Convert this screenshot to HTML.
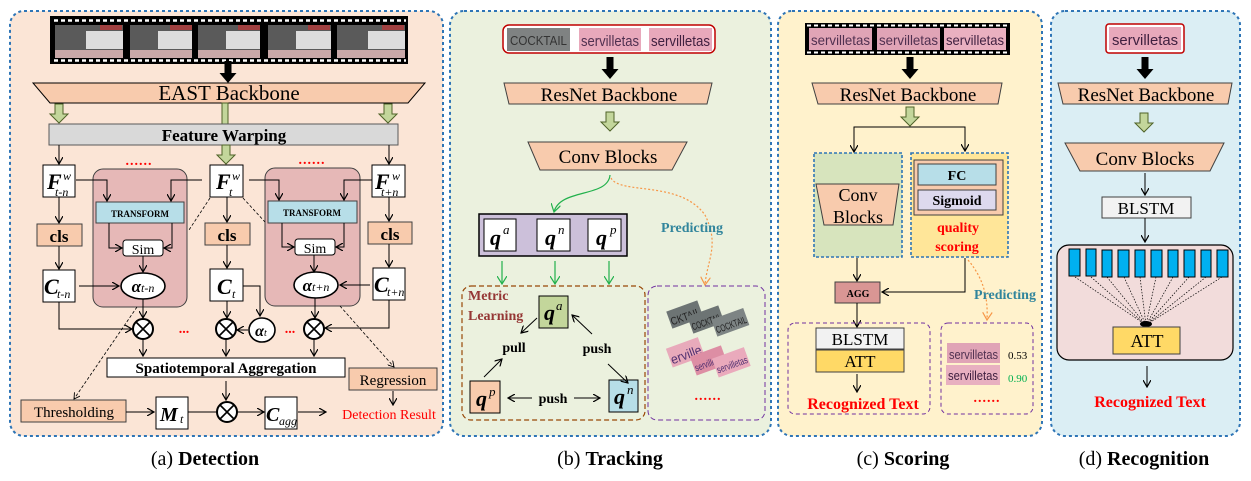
<!DOCTYPE html>
<html><head><meta charset="utf-8"><style>
html,body{margin:0;padding:0;background:#fff;}
svg{display:block;font-family:"Liberation Serif",serif;}
.b{font-weight:bold}
</style></head><body>
<svg width="1251" height="481" viewBox="0 0 1251 481" xmlns="http://www.w3.org/2000/svg">
<defs>
<marker id="ar" markerWidth="8" markerHeight="8" refX="7" refY="4" orient="auto" markerUnits="userSpaceOnUse"><path d="M0,0 L7,4 L0,8" fill="none" stroke="#000" stroke-width="1.2"/></marker>
<marker id="ag" markerWidth="10" markerHeight="10" refX="8" refY="5" orient="auto" markerUnits="userSpaceOnUse"><path d="M0,0 L8,5 L0,10" fill="none" stroke="#22b14c" stroke-width="1.2"/></marker>
<marker id="ao" markerWidth="10" markerHeight="10" refX="8" refY="5" orient="auto" markerUnits="userSpaceOnUse"><path d="M0,0 L8,5 L0,10" fill="none" stroke="#f79646" stroke-width="1.2"/></marker>
<marker id="ad" markerWidth="7" markerHeight="7" refX="6" refY="3.5" orient="auto" markerUnits="userSpaceOnUse"><path d="M0,0 L6,3.5 L0,7" fill="none" stroke="#000" stroke-width="0.9"/></marker>
<g id="ga"><path d="M-4,0 h8 v10 h5 l-9,9 l-9,-9 h5 z" fill="#c3d69b" stroke="#4f6228" stroke-width="1"/></g>
<g id="ba"><path d="M-3.5,0 h7 v12 h5 l-8.5,10 l-8.5,-10 h5 z" fill="#000"/></g>
<g id="ot"><circle r="10" fill="#fff" stroke="#000" stroke-width="2"/><path d="M-7,-7 L7,7 M7,-7 L-7,7" stroke="#000" stroke-width="1.6"/></g>
</defs>

<rect x="10" y="11" width="433" height="425" rx="14" fill="#fbe5d6" stroke="#2e75b6" stroke-width="2" stroke-dasharray="3,3"/>
<rect x="450" y="11" width="321" height="425" rx="14" fill="#ebf1de" stroke="#2e75b6" stroke-width="2" stroke-dasharray="3,3"/>
<rect x="778" y="11" width="264" height="425" rx="14" fill="#fff2cc" stroke="#2e75b6" stroke-width="2" stroke-dasharray="3,3"/>
<rect x="1051" y="11" width="189" height="425" rx="14" fill="#dbeef4" stroke="#2e75b6" stroke-width="2" stroke-dasharray="3,3"/>

<!-- (a) -->
<rect x="50" y="16" width="358" height="48" fill="#000"/>
<line x1="54" y1="20.5" x2="406" y2="20.5" stroke="#fff" stroke-width="2.5" stroke-dasharray="4,3"/>
<line x1="54" y1="60.5" x2="406" y2="60.5" stroke="#fff" stroke-width="2.5" stroke-dasharray="4,3"/>
<g>
<rect x="55" y="25" width="68" height="33" fill="#5a5a5a"/><rect x="86" y="31" width="37" height="18" fill="#ddd"/><rect x="55" y="50" width="68" height="8" fill="#c9a8a8"/><rect x="100" y="25" width="22" height="5" fill="#a04040"/>
<rect x="130" y="25" width="62" height="33" fill="#5a5a5a"/><rect x="158" y="31" width="34" height="18" fill="#ddd"/><rect x="130" y="50" width="62" height="8" fill="#c9a8a8"/><rect x="170" y="25" width="22" height="5" fill="#a04040"/>
<rect x="198" y="25" width="62" height="33" fill="#5a5a5a"/><rect x="226" y="31" width="34" height="18" fill="#ddd"/><rect x="198" y="50" width="62" height="8" fill="#c9a8a8"/><rect x="238" y="25" width="22" height="5" fill="#a04040"/>
<rect x="268" y="25" width="63" height="33" fill="#5a5a5a"/><rect x="296" y="31" width="35" height="18" fill="#ddd"/><rect x="268" y="50" width="63" height="8" fill="#c9a8a8"/><rect x="308" y="25" width="22" height="5" fill="#a04040"/>
<rect x="337" y="25" width="68" height="33" fill="#5a5a5a"/><rect x="368" y="31" width="37" height="18" fill="#ddd"/><rect x="337" y="50" width="68" height="8" fill="#c9a8a8"/><rect x="382" y="25" width="22" height="5" fill="#a04040"/>
</g>
<use href="#ba" x="228" y="61"/>
<polygon points="33,83 425,83 408,103 50,103" fill="#f8cbad" stroke="#000" stroke-width="1"/>
<text x="229" y="100" font-size="21" text-anchor="middle">EAST Backbone</text>
<use href="#ga" x="59" y="104"/><use href="#ga" x="388" y="104"/>
<rect x="222" y="103" width="6" height="21" fill="#c3d69b" stroke="#4f6228" stroke-width="1"/>
<rect x="49" y="124" width="349" height="21" fill="#d9d9d9" stroke="#595959" stroke-width="1"/>
<text x="224" y="141" font-size="17" text-anchor="middle" class="b">Feature Warping</text>
<line x1="59" y1="145" x2="59" y2="164" stroke="#000" marker-end="url(#ar)"/>
<line x1="389" y1="145" x2="389" y2="164" stroke="#000" marker-end="url(#ar)"/>
<use href="#ga" x="226" y="145"/>
<rect x="93" y="169" width="94" height="138" rx="10" fill="#e6b8b7" stroke="#404040" stroke-width="1"/>
<rect x="265" y="168" width="95" height="138" rx="10" fill="#e6b8b7" stroke="#404040" stroke-width="1"/>
<text x="139" y="165" font-size="14" fill="#f00" text-anchor="middle" class="b" letter-spacing="1">......</text>
<text x="312" y="164" font-size="14" fill="#f00" text-anchor="middle" class="b" letter-spacing="1">......</text>
<rect x="43" y="165" width="32" height="32" fill="#fff" stroke="#000"/>
<text x="47" y="189" font-size="22" font-style="italic" class="b">F</text><text x="63" y="180" font-size="12" font-style="italic">w</text><text x="55" y="196" font-size="12" font-style="italic">t-n</text>
<rect x="210" y="165" width="33" height="32" fill="#fff" stroke="#000"/>
<text x="216" y="189" font-size="22" font-style="italic" class="b">F</text><text x="232" y="180" font-size="12" font-style="italic">w</text><text x="229" y="196" font-size="12" font-style="italic">t</text>
<rect x="372" y="165" width="33" height="32" fill="#fff" stroke="#000"/>
<text x="375" y="189" font-size="22" font-style="italic" class="b">F</text><text x="392" y="180" font-size="12" font-style="italic">w</text><text x="381" y="196" font-size="12" font-style="italic">t+n</text>
<rect x="96" y="202" width="88" height="21" fill="#b7dee8" stroke="#404040"/>
<text x="140" y="217" font-size="9" text-anchor="middle" class="b">TRANSFORM</text>
<rect x="268" y="201" width="89" height="22" fill="#b7dee8" stroke="#404040"/>
<text x="312" y="216" font-size="9" text-anchor="middle" class="b">TRANSFORM</text>
<polyline points="76,180 107,180 107,201" fill="none" stroke="#000" marker-end="url(#ar)"/>
<polyline points="202,180 171,180 171,201" fill="none" stroke="#000" marker-end="url(#ar)"/>
<polyline points="249,180 279,180 279,200" fill="none" stroke="#000" marker-end="url(#ar)"/>
<polyline points="372,180 344,180 344,200" fill="none" stroke="#000" marker-end="url(#ar)"/>
<rect x="123" y="240" width="40" height="16" rx="3" fill="#fff" stroke="#000"/>
<text x="143" y="254" font-size="14" text-anchor="middle">Sim</text>
<rect x="295" y="239" width="40" height="16" rx="3" fill="#fff" stroke="#000"/>
<text x="315" y="253" font-size="14" text-anchor="middle">Sim</text>
<polyline points="109,223 109,248 122,248" fill="none" stroke="#000" marker-end="url(#ar)"/>
<polyline points="172,223 172,248 164,248" fill="none" stroke="#000" marker-end="url(#ar)"/>
<polyline points="282,223 282,247 294,247" fill="none" stroke="#000" marker-end="url(#ar)"/>
<polyline points="344,223 344,247 336,247" fill="none" stroke="#000" marker-end="url(#ar)"/>
<line x1="143" y1="256" x2="143" y2="272" stroke="#000" marker-end="url(#ar)"/>
<line x1="314" y1="255" x2="314" y2="272" stroke="#000" marker-end="url(#ar)"/>
<ellipse cx="143" cy="286" rx="22" ry="13" fill="#fff" stroke="#000" stroke-width="1.6"/>
<text x="143" y="292" font-size="17" text-anchor="middle" font-style="italic" class="b">α<tspan font-size="12" font-weight="normal">t-n</tspan></text>
<ellipse cx="316" cy="285" rx="22" ry="13" fill="#fff" stroke="#000" stroke-width="1.6"/>
<text x="316" y="291" font-size="17" text-anchor="middle" font-style="italic" class="b">α<tspan font-size="12" font-weight="normal">t+n</tspan></text>
<line x1="59" y1="197" x2="59" y2="223" stroke="#000" marker-end="url(#ar)"/>
<line x1="227" y1="197" x2="227" y2="222" stroke="#000" marker-end="url(#ar)"/>
<line x1="389" y1="197" x2="389" y2="221" stroke="#000" marker-end="url(#ar)"/>
<rect x="37" y="224" width="45" height="22" fill="#f8cbad" stroke="#404040"/><text x="59" y="242" font-size="17" text-anchor="middle" class="b">cls</text>
<rect x="205" y="223" width="45" height="22" fill="#f8cbad" stroke="#404040"/><text x="227" y="241" font-size="17" text-anchor="middle" class="b">cls</text>
<rect x="368" y="222" width="44" height="22" fill="#f8cbad" stroke="#404040"/><text x="390" y="240" font-size="17" text-anchor="middle" class="b">cls</text>
<line x1="59" y1="246" x2="59" y2="269" stroke="#000" marker-end="url(#ar)"/>
<line x1="227" y1="245" x2="227" y2="268" stroke="#000" marker-end="url(#ar)"/>
<line x1="389" y1="244" x2="389" y2="267" stroke="#000" marker-end="url(#ar)"/>
<rect x="43" y="270" width="32" height="32" fill="#fff" stroke="#000"/>
<text x="44" y="294" font-size="22" font-style="italic" class="b">C</text><text x="57" y="298" font-size="12" font-style="italic">t-n</text>
<rect x="210" y="269" width="33" height="32" fill="#fff" stroke="#000"/>
<text x="217" y="294" font-size="22" font-style="italic" class="b">C</text><text x="232" y="298" font-size="12" font-style="italic">t</text>
<rect x="373" y="268" width="32" height="32" fill="#fff" stroke="#000"/>
<text x="374" y="292" font-size="22" font-style="italic" class="b">C</text><text x="387" y="296" font-size="12" font-style="italic">t+n</text>
<line x1="79" y1="286" x2="119" y2="286" stroke="#000" marker-end="url(#ar)"/>
<line x1="370" y1="285" x2="340" y2="285" stroke="#000" marker-end="url(#ar)"/>
<line x1="143" y1="299" x2="143" y2="318" stroke="#000" marker-end="url(#ar)"/>
<line x1="315" y1="298" x2="315" y2="318" stroke="#000" marker-end="url(#ar)"/>
<line x1="227" y1="301" x2="227" y2="318" stroke="#000" marker-end="url(#ar)"/>
<polyline points="59,302 59,329 132,329" fill="none" stroke="#000" marker-end="url(#ar)"/>
<polyline points="389,300 389,328 325,328" fill="none" stroke="#000" marker-end="url(#ar)"/>
<polyline points="243,286 260,286 260,316" fill="none" stroke="#000" marker-end="url(#ar)"/>
<use href="#ot" x="143" y="329"/><use href="#ot" x="226" y="329"/><use href="#ot" x="314" y="329"/>
<ellipse cx="262" cy="330" rx="13" ry="12" fill="#fff" stroke="#000" stroke-width="1.6"/>
<text x="261" y="336" font-size="16" text-anchor="middle" font-style="italic" class="b">α<tspan font-size="10" font-weight="normal">t</tspan></text>
<line x1="248" y1="330" x2="237" y2="330" stroke="#000" marker-end="url(#ar)"/>
<text x="184" y="333" font-size="14" fill="#f00" text-anchor="middle" class="b">...</text>
<text x="290" y="333" font-size="14" fill="#f00" text-anchor="middle" class="b">...</text>
<line x1="143" y1="339" x2="143" y2="356" stroke="#000" marker-end="url(#ar)"/>
<line x1="226" y1="339" x2="226" y2="356" stroke="#000" marker-end="url(#ar)"/>
<line x1="314" y1="339" x2="314" y2="356" stroke="#000" marker-end="url(#ar)"/>
<rect x="107" y="358" width="238" height="19" fill="#fff" stroke="#000"/>
<text x="226" y="373" font-size="15" text-anchor="middle" class="b">Spatiotemporal Aggregation</text>
<line x1="210" y1="198" x2="189" y2="230" stroke="#000" stroke-width="0.8" stroke-dasharray="3,2"/>
<line x1="243" y1="198" x2="265" y2="222" stroke="#000" stroke-width="0.8" stroke-dasharray="3,2"/>
<line x1="137" y1="307" x2="74" y2="399" stroke="#000" stroke-width="0.8" stroke-dasharray="3,2" marker-end="url(#ad)"/>
<line x1="340" y1="306" x2="394" y2="367" stroke="#000" stroke-width="0.8" stroke-dasharray="3,2" marker-end="url(#ad)"/>
<rect x="349" y="368" width="88" height="22" fill="#f8cbad" stroke="#404040"/>
<text x="393" y="385" font-size="15" text-anchor="middle">Regression</text>
<line x1="393" y1="391" x2="393" y2="405" stroke="#000" marker-end="url(#ar)"/>
<rect x="21" y="400" width="105" height="22" fill="#f8cbad" stroke="#404040"/>
<text x="74" y="417" font-size="15" text-anchor="middle">Thresholding</text>
<line x1="126" y1="412" x2="154" y2="412" stroke="#000" marker-end="url(#ar)"/>
<rect x="156" y="397" width="32" height="32" fill="#fff" stroke="#000"/>
<text x="160" y="421" font-size="20" font-style="italic" class="b">M</text><text x="180" y="423" font-size="12" font-style="italic">t</text>
<line x1="188" y1="412" x2="226" y2="412" stroke="#000" marker-end="url(#ar)"/>
<line x1="226" y1="381" x2="226" y2="400" stroke="#000" marker-end="url(#ar)"/>
<use href="#ot" x="227" y="412"/>
<line x1="237" y1="412" x2="264" y2="412" stroke="#000" marker-end="url(#ar)"/>
<rect x="265" y="397" width="32" height="32" fill="#fff" stroke="#000"/>
<text x="266" y="421" font-size="20" font-style="italic" class="b">C</text><text x="279" y="425" font-size="12" font-style="italic">agg</text>
<line x1="298" y1="412" x2="326" y2="412" stroke="#000" marker-end="url(#ar)"/>
<text x="389" y="419" font-size="14" fill="#f00" text-anchor="middle">Detection Result</text>
<text x="205" y="465" font-size="20" text-anchor="middle">(a) <tspan class="b">Detection</tspan></text>

<!-- (b) -->
<rect x="503" y="25" width="212" height="28" rx="6" fill="#fff" stroke="#c00000" stroke-width="1.5"/>
<g font-family="Liberation Sans,sans-serif">
<rect x="507" y="28" width="63" height="23" fill="#7f8282"/><text x="510" y="45" font-size="13" fill="#333" textLength="57" lengthAdjust="spacingAndGlyphs">COCKTAIL</text>
<rect x="579" y="28" width="62" height="23" fill="#e8a8bb"/><text x="581" y="46" font-size="15" fill="#503050" textLength="58" lengthAdjust="spacingAndGlyphs">servilletas</text>
<rect x="649" y="28" width="63" height="23" fill="#e8a8bb"/><text x="651" y="46" font-size="15" fill="#402040" textLength="59" lengthAdjust="spacingAndGlyphs">servilletas</text>
</g>
<use href="#ba" x="610" y="57"/>
<polygon points="504,83 712,83 707,104 509,104" fill="#f8cbad" stroke="#404040"/>
<text x="609" y="101" font-size="19" text-anchor="middle">ResNet Backbone</text>
<use href="#ga" x="610" y="112"/>
<polygon points="528,142 687,142 672,170 540,170" fill="#f8cbad" stroke="#404040"/>
<text x="608" y="163" font-size="19" text-anchor="middle">Conv Blocks</text>
<path d="M610,175 C608,198 560,188 554,212" fill="none" stroke="#22b14c" stroke-width="1.2" marker-end="url(#ag)"/>
<path d="M611,178 C620,195 680,180 705,215 C720,245 707,260 705,285" fill="none" stroke="#f79646" stroke-width="1.2" stroke-dasharray="2,2" marker-end="url(#ao)"/>
<text x="692" y="232" font-size="14" text-anchor="middle" class="b" fill="#31859c">Predicting</text>
<rect x="479" y="214" width="148" height="42" fill="#ccc0da" stroke="#000" stroke-width="1.5"/>
<rect x="484" y="219" width="32" height="32" fill="#fff" stroke="#000"/>
<rect x="537" y="219" width="33" height="32" fill="#fff" stroke="#000"/>
<rect x="588" y="219" width="33" height="32" fill="#fff" stroke="#000"/>
<text x="490" y="245" font-size="22" font-style="italic" class="b">q</text><text x="503" y="234" font-size="13" font-style="italic">a</text>
<text x="545" y="245" font-size="22" font-style="italic" class="b">q</text><text x="558" y="234" font-size="13" font-style="italic">n</text>
<text x="596" y="245" font-size="22" font-style="italic" class="b">q</text><text x="610" y="234" font-size="13" font-style="italic">p</text>
<line x1="502" y1="261" x2="502" y2="284" stroke="#22b14c" stroke-width="1.2" marker-end="url(#ag)"/>
<line x1="555" y1="261" x2="555" y2="284" stroke="#22b14c" stroke-width="1.2" marker-end="url(#ag)"/>
<line x1="609" y1="261" x2="609" y2="284" stroke="#22b14c" stroke-width="1.2" marker-end="url(#ag)"/>
<rect x="462" y="286" width="183" height="134" rx="9" fill="none" stroke="#984807" stroke-width="1.2" stroke-dasharray="5,3"/>
<rect x="648" y="286" width="117" height="134" rx="9" fill="none" stroke="#7030a0" stroke-width="1" stroke-dasharray="5,3"/>
<text x="468" y="300" font-size="14" class="b" fill="#953735">Metric</text>
<text x="468" y="320" font-size="14" class="b" fill="#953735">Learning</text>
<rect x="539" y="296" width="29" height="32" fill="#c3d69b" stroke="#000"/>
<text x="544" y="320" font-size="22" font-style="italic" class="b">q</text><text x="556" y="310" font-size="13" font-style="italic">a</text>
<rect x="470" y="381" width="30" height="32" fill="#f8cbad" stroke="#000"/>
<text x="476" y="406" font-size="22" font-style="italic" class="b">q</text><text x="489" y="396" font-size="13" font-style="italic">p</text>
<rect x="609" y="380" width="29" height="32" fill="#b7dee8" stroke="#000"/>
<text x="614" y="404" font-size="22" font-style="italic" class="b">q</text><text x="627" y="394" font-size="13" font-style="italic">n</text>
<line x1="537" y1="318" x2="521" y2="333" stroke="#000" marker-end="url(#ar)"/>
<line x1="484" y1="377" x2="502" y2="359" stroke="#000" marker-end="url(#ar)"/>
<line x1="592" y1="334" x2="572" y2="315" stroke="#000" marker-end="url(#ar)"/>
<line x1="608" y1="364" x2="628" y2="383" stroke="#000" marker-end="url(#ar)"/>
<line x1="532" y1="398" x2="508" y2="398" stroke="#000" marker-end="url(#ar)"/>
<line x1="574" y1="398" x2="600" y2="398" stroke="#000" marker-end="url(#ar)"/>
<text x="514" y="352" font-size="14" class="b" text-anchor="middle">pull</text>
<text x="597" y="353" font-size="14" class="b" text-anchor="middle">push</text>
<text x="553" y="403" font-size="14" class="b" text-anchor="middle">push</text>
<g font-family="Liberation Sans,sans-serif">
<g transform="translate(670,322) rotate(-20)"><rect x="0" y="-11" width="33" height="18" fill="#6d7474"/><text x="1" y="4" font-size="11" fill="#222" textLength="31" lengthAdjust="spacingAndGlyphs">CKTAIL</text></g>
<g transform="translate(691,327) rotate(-20)"><rect x="0" y="-11" width="33" height="18" fill="#6d7474"/><text x="1" y="4" font-size="10" fill="#222" textLength="31" lengthAdjust="spacingAndGlyphs">COCKTAIL</text></g>
<g transform="translate(715,330) rotate(-20)"><rect x="0" y="-11" width="34" height="18" fill="#7d8484"/><text x="1" y="4" font-size="10" fill="#222" textLength="32" lengthAdjust="spacingAndGlyphs">COCKTAIL</text></g>
<g transform="translate(670,360) rotate(-20)"><rect x="0" y="-12" width="34" height="20" fill="#e8aabb"/><text x="1" y="5" font-size="13" fill="#503070" textLength="32" lengthAdjust="spacingAndGlyphs">erville</text></g>
<g transform="translate(694,368) rotate(-20)"><rect x="0" y="-12" width="33" height="20" fill="#dd8ea4"/><text x="1" y="4" font-size="10" fill="#503070" textLength="31" lengthAdjust="spacingAndGlyphs">servilletas</text></g>
<g transform="translate(716,370) rotate(-20)"><rect x="0" y="-12" width="34" height="20" fill="#eaaabc"/><text x="1" y="4" font-size="10" fill="#503070" textLength="32" lengthAdjust="spacingAndGlyphs">servilletas</text></g>
</g>
<text x="708" y="400" font-size="14" fill="#f00" text-anchor="middle" class="b" letter-spacing="1">......</text>
<text x="610" y="465" font-size="20" text-anchor="middle">(b) <tspan class="b">Tracking</tspan></text>

<!-- (c) -->
<rect x="805" y="23" width="205" height="32" fill="#000"/>
<line x1="807" y1="25.5" x2="1008" y2="25.5" stroke="#fff" stroke-width="2" stroke-dasharray="4,3"/>
<line x1="807" y1="52.5" x2="1008" y2="52.5" stroke="#fff" stroke-width="2" stroke-dasharray="4,3"/>
<g font-family="Liberation Sans,sans-serif">
<rect x="809" y="28" width="63" height="22" fill="#e0a4b6"/><text x="811" y="45" font-size="14" fill="#503050" textLength="59" lengthAdjust="spacingAndGlyphs">servilletas</text>
<rect x="877" y="28" width="63" height="22" fill="#e0a4b6"/><text x="879" y="45" font-size="14" fill="#503050" textLength="59" lengthAdjust="spacingAndGlyphs">servilletas</text>
<rect x="944" y="28" width="62" height="22" fill="#eab0c0"/><text x="946" y="45" font-size="14" fill="#402040" textLength="58" lengthAdjust="spacingAndGlyphs">servilletas</text>
</g>
<use href="#ba" x="910" y="57"/>
<polygon points="812,83 1002,83 998,104 818,104" fill="#f8cbad" stroke="#404040"/>
<text x="908" y="101" font-size="19" text-anchor="middle">ResNet Backbone</text>
<use href="#ga" x="910" y="107"/>
<polyline points="854,152 854,127 965,127 965,151" fill="none" stroke="#000"/>
<line x1="854" y1="140" x2="854" y2="152" stroke="#000" marker-end="url(#ar)"/>
<line x1="965" y1="140" x2="965" y2="151" stroke="#000" marker-end="url(#ar)"/>
<rect x="814" y="153" width="88" height="104" fill="#d7e4bd" stroke="#2e75b6" stroke-width="1.6" stroke-dasharray="3,2"/>
<polygon points="816,184 899,184 893,225 824,225" fill="#f8cbad" stroke="#404040"/>
<text x="858" y="201" font-size="18" text-anchor="middle">Conv</text>
<text x="858" y="223" font-size="18" text-anchor="middle">Blocks</text>
<rect x="911" y="153" width="97" height="104" fill="#ffe699" stroke="#2e75b6" stroke-width="1.6" stroke-dasharray="3,2"/>
<rect x="914" y="160" width="89" height="55" fill="#f8cbad" stroke="#404040"/>
<rect x="918" y="164" width="78" height="21" fill="#b7dee8" stroke="#404040"/>
<text x="957" y="180" font-size="14" text-anchor="middle" class="b">FC</text>
<rect x="918" y="190" width="78" height="20" fill="#ddd9ee" stroke="#404040"/>
<text x="957" y="205" font-size="14" text-anchor="middle" class="b">Sigmoid</text>
<text x="958" y="232" font-size="14" text-anchor="middle" class="b" fill="#f00">quality</text>
<text x="957" y="251" font-size="14" text-anchor="middle" class="b" fill="#f00">scoring</text>
<line x1="857" y1="258" x2="857" y2="281" stroke="#000" marker-end="url(#ar)"/>
<polyline points="965,258 965,292 882,292" fill="none" stroke="#000" marker-end="url(#ar)"/>
<rect x="835" y="282" width="45" height="21" fill="#d99694" stroke="#404040"/>
<text x="858" y="297" font-size="10" text-anchor="middle" class="b">AGG</text>
<path d="M968,260 C985,280 988,300 987,320" fill="none" stroke="#f79646" stroke-width="1.2" stroke-dasharray="2,2" marker-end="url(#ao)"/>
<text x="1005" y="299" font-size="14" text-anchor="middle" class="b" fill="#31859c">Predicting</text>
<line x1="857" y1="303" x2="857" y2="327" stroke="#000" marker-end="url(#ar)"/>
<rect x="788" y="323" width="142" height="91" rx="7" fill="none" stroke="#7030a0" stroke-width="1" stroke-dasharray="4,3"/>
<rect x="816" y="328" width="88" height="21" fill="#f2f2f2" stroke="#404040"/>
<text x="860" y="345" font-size="17" text-anchor="middle">BLSTM</text>
<rect x="816" y="350" width="88" height="22" fill="#ffd966" stroke="#404040"/>
<text x="860" y="367" font-size="17" text-anchor="middle">ATT</text>
<line x1="857" y1="374" x2="857" y2="392" stroke="#000" marker-end="url(#ar)"/>
<text x="863" y="409" font-size="16" text-anchor="middle" class="b" fill="#f00">Recognized Text</text>
<rect x="941" y="323" width="92" height="91" rx="7" fill="none" stroke="#7030a0" stroke-width="1" stroke-dasharray="4,3"/>
<g font-family="Liberation Sans,sans-serif">
<rect x="947" y="343" width="53" height="20" fill="#e0a4b6"/><text x="949" y="359" font-size="13" fill="#503050" textLength="49" lengthAdjust="spacingAndGlyphs">servilletas</text>
<rect x="946" y="365" width="54" height="20" fill="#e8b0c0"/><text x="948" y="380" font-size="13" fill="#402040" textLength="50" lengthAdjust="spacingAndGlyphs">servilletas</text>
</g>
<text x="1008" y="359" font-size="11">0.53</text>
<text x="1008" y="382" font-size="11" fill="#00b050">0.90</text>
<text x="987" y="402" font-size="14" fill="#f00" text-anchor="middle" class="b" letter-spacing="1">......</text>
<text x="903" y="465" font-size="20" text-anchor="middle">(c) <tspan class="b">Scoring</tspan></text>

<!-- (d) -->
<rect x="1106" y="24" width="78" height="29" rx="3" fill="#fff" stroke="#c00000" stroke-width="1.5"/>
<rect x="1109" y="27" width="72" height="23" fill="#e8a8bb"/>
<text x="1112" y="45" font-size="15" fill="#402040" font-family="Liberation Sans,sans-serif" textLength="66" lengthAdjust="spacingAndGlyphs">servilletas</text>
<use href="#ba" x="1145" y="57"/>
<polygon points="1058,83 1232,83 1228,104 1063,104" fill="#f8cbad" stroke="#404040"/>
<text x="1146" y="101" font-size="19" text-anchor="middle">ResNet Backbone</text>
<use href="#ga" x="1144" y="113"/>
<polygon points="1065,143 1224,143 1210,171 1080,171" fill="#f8cbad" stroke="#404040"/>
<text x="1145" y="165" font-size="19" text-anchor="middle">Conv Blocks</text>
<line x1="1145" y1="173" x2="1145" y2="195" stroke="#000" marker-end="url(#ar)"/>
<rect x="1102" y="197" width="89" height="21" fill="#f2f2f2" stroke="#404040"/>
<text x="1146" y="214" font-size="17" text-anchor="middle">BLSTM</text>
<line x1="1145" y1="218" x2="1145" y2="242" stroke="#000" marker-end="url(#ar)"/>
<rect x="1057" y="245" width="176" height="115" rx="12" fill="#f2dcdb" stroke="#000" stroke-width="1.2"/>
<g fill="#00b0f0" stroke="#000" stroke-width="1">
<rect x="1069" y="249" width="11" height="27"/><rect x="1086" y="249" width="10" height="27"/><rect x="1102" y="250" width="10" height="27"/><rect x="1118" y="250" width="11" height="27"/><rect x="1135" y="250" width="10" height="27"/><rect x="1151" y="250" width="11" height="27"/><rect x="1168" y="250" width="10" height="27"/><rect x="1184" y="250" width="11" height="27"/><rect x="1201" y="250" width="10" height="27"/><rect x="1217" y="250" width="11" height="27"/>
</g>
<g stroke="#000" stroke-width="0.7" stroke-dasharray="1.5,1.5">
<line x1="1075" y1="277" x2="1146" y2="325"/><line x1="1091" y1="277" x2="1146" y2="325"/><line x1="1107" y1="277" x2="1146" y2="325"/><line x1="1124" y1="277" x2="1146" y2="325"/><line x1="1140" y1="277" x2="1146" y2="325"/><line x1="1156" y1="277" x2="1146" y2="325"/><line x1="1173" y1="277" x2="1146" y2="325"/><line x1="1189" y1="277" x2="1146" y2="325"/><line x1="1206" y1="277" x2="1146" y2="325"/><line x1="1222" y1="277" x2="1146" y2="325"/>
</g>
<ellipse cx="1146" cy="324" rx="6" ry="3" fill="#000"/>
<rect x="1113" y="327" width="67" height="27" fill="#ffd966" stroke="#404040"/>
<text x="1147" y="347" font-size="18" text-anchor="middle">ATT</text>
<line x1="1147" y1="366" x2="1147" y2="387" stroke="#000" marker-end="url(#ar)"/>
<text x="1150" y="407" font-size="16" text-anchor="middle" class="b" fill="#f00">Recognized Text</text>
<text x="1144" y="465" font-size="20" text-anchor="middle">(d) <tspan class="b">Recognition</tspan></text>
</svg>
</body></html>
